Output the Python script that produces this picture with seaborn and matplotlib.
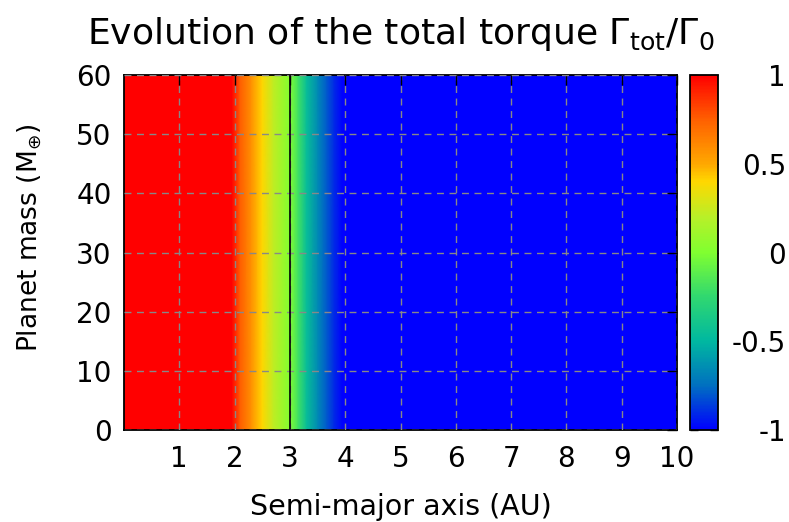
import numpy as np
import matplotlib
matplotlib.use("Agg")
import matplotlib.pyplot as plt
import seaborn as sns
from matplotlib.colors import LinearSegmentedColormap

# --- Data ---
# torque profile along the semi-major axis, independent of planet mass
semi_major_axis = [0.0, 1.0, 1.95, 2.1, 2.3, 2.5, 2.7, 3.0, 3.15, 3.3, 3.5, 3.67, 3.8, 3.95, 5.0, 10.0]
torque = [1.0, 1.0, 1.0, 0.75, 0.58, 0.4, 0.22, 0.0, -0.2, -0.45, -0.65, -0.8, -0.9, -1.0, -1.0, -1.0]
planet_mass = [0, 60]

x_ticks = [1, 2, 3, 4, 5, 6, 7, 8, 9, 10]
y_ticks = [0, 10, 20, 30, 40, 50, 60]
cbar_ticks = [-1, -0.5, 0, 0.5, 1]
cbar_labels = ["-1", "-0.5", "0", "0.5", "1"]

# gnuplot-like rainbow palette
palette_stops = [0.0, 0.125, 0.25, 0.375, 0.5, 0.6, 0.7, 0.75, 0.875, 1.0]
palette_colors = ["#0000ff", "#0070c0", "#00b8a0", "#30d870", "#80ff30",
                  "#b8f028", "#ffd800", "#ffa800", "#ff6000", "#ff0000"]

sns.set_theme(style="white")
plt.rcParams["font.family"] = ["DejaVu Sans"]
plt.rcParams["mathtext.fontset"] = "dejavusans"
plt.rcParams["axes.unicode_minus"] = False
plt.rcParams["text.color"] = "black"
plt.rcParams["axes.labelcolor"] = "black"
plt.rcParams["xtick.color"] = "black"
plt.rcParams["ytick.color"] = "black"

cmap = LinearSegmentedColormap.from_list("torque", list(zip(palette_stops, palette_colors)))

X, Y = np.meshgrid(semi_major_axis, planet_mass)
Z = np.tile(torque, (len(planet_mass), 1))

fig = plt.figure(figsize=(7.89, 5.22), dpi=100)
ax = fig.add_axes([124 / 789, 1 - 430 / 522, (677 - 124) / 789, 355 / 522])
cax = fig.add_axes([690 / 789, 1 - 430 / 522, 28 / 789, 355 / 522])

mesh = ax.pcolormesh(X, Y, Z, cmap=cmap, vmin=-1, vmax=1, shading="gouraud")
ax.contour(X, Y, Z, levels=[0], colors="black", linewidths=1.2, zorder=4)

ax.set_xlim(0, 10)
ax.set_ylim(0, 60)
ax.set_xticks(x_ticks)
ax.set_yticks(y_ticks)
ax.grid(True, color="#888888", linestyle=(0, (5, 4)), linewidth=1.0)
ax.set_axisbelow(False)
ax.tick_params(axis="both", direction="in", length=7, width=1, color="black",
               top=True, right=True, labelsize=20)
ax.tick_params(axis="x", pad=11)
ax.tick_params(axis="y", pad=9)
for s in ax.spines.values():
    s.set_color("black")
    s.set_linewidth(1.3)

ax.set_xlabel("Semi-major axis (AU)", fontsize=20.5, labelpad=14)
ax.set_ylabel(r"Planet mass (M$_{\oplus}$)", fontsize=19)
ax.yaxis.set_label_coords(-0.145, 0.54)
ax.set_title(r"Evolution of the total torque $\Gamma_{\mathrm{tot}}/\Gamma_{0}$",
             fontsize=26, pad=22)

cbar = fig.colorbar(mesh, cax=cax)
cbar.set_ticks(cbar_ticks)
cbar.set_ticklabels(cbar_labels)
cbar.outline.set_edgecolor("black")
cbar.outline.set_linewidth(1.3)
cax.tick_params(direction="in", length=6, width=1, color="black", left=True, right=True,
                labelsize=20, pad=49)
for lbl in cax.get_yticklabels():
    lbl.set_horizontalalignment("right")

fig.savefig("out.png", dpi=100)
